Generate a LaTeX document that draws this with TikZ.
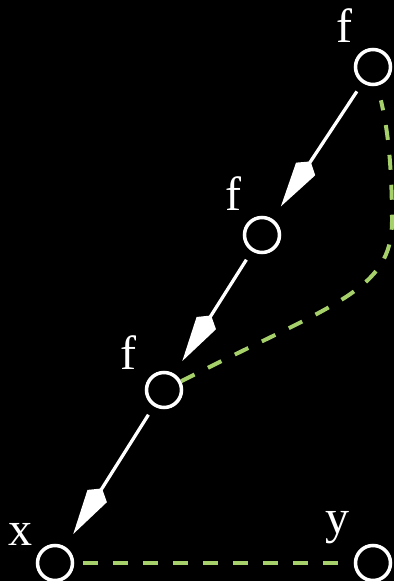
\documentclass[tikz,border=0pt]{standalone}
\usepackage{fontspec}
\setmainfont{Liberation Serif}
\usepackage{tikz}
\usetikzlibrary{arrows.meta}
\definecolor{chaingreen}{HTML}{A6D06A}

\begin{document}
\begin{tikzpicture}[
  x=0.03cm, y=0.03cm,
  vertex/.style={circle, draw=white, fill=black, line width=3pt, minimum size=1.05cm, inner sep=0pt},
  tag/.style={text=white, font=\fontsize{41}{49}\selectfont, inner sep=0pt},
  push/.style={-{Kite[length=46pt, width=19.6pt, inset=7.7pt]}, white, line width=2.8pt, shorten <=0.3cm, shorten >=0.45cm},
  link/.style={chaingreen, line width=3.4pt, dash pattern=on 12.8pt off 12.8pt}
]
\fill[black] (0,0) rectangle (394,581);
\useasboundingbox (0,0) rectangle (394,581);

\node[vertex] (f1) at (373,514) {};
\node[vertex] (f2) at (262,346) {};
\node[vertex] (f3) at (164,191) {};
\node[vertex] (xn) at (55,18) {};
\node[vertex] (yn) at (373,18) {};

\node[tag] (f1lbl) at (344,555) {f};
\node[tag] (f2lbl) at (233,387.5) {f};
\node[tag] (f3lbl) at (128,228.5) {f};
\node[tag] (xlbl) at (21,47) {x};
\node[tag] (ylbl) at (337.5,53) {y};

\draw[push] (f1) -- (f2);
\draw[push] (f2) -- (f3);
\draw[push] (f3) -- (xn);

\draw[link, shorten >=0.45cm] (f3) .. controls (335,278) and (392,290) .. (392,360)
  .. controls (392,420) and (387,455) .. (f1);
\draw[link, shorten <=0.27cm, shorten >=0.48cm] (xn) -- (yn);
\end{tikzpicture}
\end{document}
